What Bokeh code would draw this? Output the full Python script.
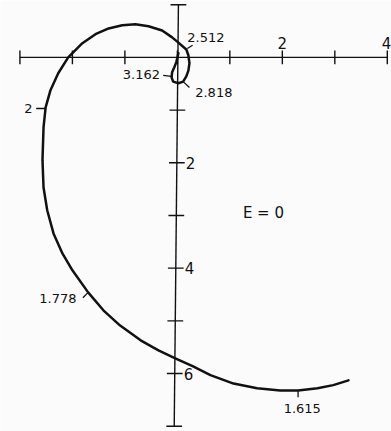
from bokeh.plotting import figure
from bokeh.models import Range1d
from bokeh.core.properties import value
from bokeh.embed import file_html
from bokeh.resources import INLINE

# Locus of the frequency response for E = 0 (real part vs. negative imaginary part),
# listed from the innermost end of the spiral outwards
real_part = [0.02, -0.02, -0.06, -0.10, -0.11, -0.08, 0.02, 0.11, 0.17, 0.21,
             0.23, 0.21, 0.17, 0.02, -0.10, -0.29, -0.55, -0.80, -1.05, -1.31,
             -1.56, -1.81, -2.08, -2.27, -2.42, -2.51, -2.55, -2.57, -2.55, -2.48,
             -2.36, -2.19, -2.00, -1.70, -1.41, -1.09, -0.70, -0.36, -0.04, 0.29,
             0.63, 1.07, 1.52, 1.96, 2.30, 2.67, 2.97, 3.26]
neg_imag = [-0.08, 0.09, 0.19, 0.28, 0.38, 0.46, 0.49, 0.46, 0.36, 0.25,
            0.11, -0.04, -0.15, -0.28, -0.38, -0.51, -0.59, -0.63, -0.61, -0.55,
            -0.44, -0.27, 0.00, 0.30, 0.63, 0.95, 1.33, 1.95, 2.47, 2.90,
            3.34, 3.72, 4.04, 4.46, 4.80, 5.09, 5.37, 5.56, 5.71, 5.86,
            6.03, 6.19, 6.28, 6.32, 6.32, 6.28, 6.22, 6.13]

# Frequency marks along the locus
freq_labels = ["3.162", "2.818", "2.512", "2", "1.778", "1.615"]

# Axis ticks and labels
x_ticks = [-3, -2, -1, 0, 1, 2, 3, 4]
x_tick_labels = ["2", "4"]
x_label_vals = [2, 4]
y_ticks = [-1, 1, 2, 3, 4, 5, 6, 7]
y_tick_labels = ["2", "4", "6"]
y_label_vals = [2, 4, 6]

INK = "#111111"
FONT = value("DejaVu Sans")


def axis_x(y):
    # the hand-ruled vertical axis leans very slightly
    return 0.02 - 0.01 * (y + 1)


p = figure(width=391, height=431, output_backend="svg", toolbar_location=None,
           x_range=Range1d(-3.37, 4.08), y_range=Range1d(7.10, -1.08),
           min_border=0, background_fill_color="#fbfbfb",
           border_fill_color="#fbfbfb")
p.axis.visible = False
p.grid.visible = False
p.outline_line_color = None

# Axes crossing at the origin, with ticks straddling the lines
p.segment(x0=[-3.0], y0=[0], x1=[4.0], y1=[0], line_color=INK, line_width=1.4)
p.segment(x0=[axis_x(-1.0)], y0=[-1.0], x1=[axis_x(7.0)], y1=[7.0],
          line_color=INK, line_width=1.4)
p.segment(x0=x_ticks, y0=[-0.13] * len(x_ticks), x1=x_ticks, y1=[0.13] * len(x_ticks),
          line_color=INK, line_width=1.4)
p.segment(x0=[axis_x(t) - 0.15 for t in y_ticks], y0=y_ticks,
          x1=[axis_x(t) + 0.15 for t in y_ticks], y1=y_ticks,
          line_color=INK, line_width=1.4)

p.text(x=x_label_vals, y=[-0.28, -0.28], text=x_tick_labels, text_font=FONT,
       text_font_size="15px", text_align=["center", "right"], text_baseline="middle",
       text_color=INK, x_offset=[0, 4])
p.text(x=[axis_x(t) + 0.17 for t in y_label_vals], y=y_label_vals,
       text=y_tick_labels, text_font=FONT, text_font_size="15px",
       text_align="left", text_baseline="middle", text_color=INK)

# The locus
p.line(real_part, neg_imag, line_color=INK, line_width=2.5,
       line_join="round", line_cap="round")

# Leaders from the locus to the frequency marks
p.segment(x0=[-0.27, 0.11, 0.19, -2.69, -1.80, 2.30],
          y0=[0.34, 0.46, -0.17, 0.97, 4.56, 6.32],
          x1=[-0.11, 0.23, 0.29, -2.52, -1.70, 2.30],
          y1=[0.36, 0.57, -0.23, 0.97, 4.46, 6.45],
          line_color=INK, line_width=1.3)

lab_x = [-0.33, 0.34, 0.19, -2.84, -2.63, 2.38]
lab_y = [0.33, 0.66, -0.38, 0.97, 4.57, 6.66]
lab_align = ["right", "left", "left", "center", "left", "center"]
for xx, yy, t, a in zip(lab_x, lab_y, freq_labels, lab_align):
    p.text(x=[xx], y=[yy], text=[t], text_font=FONT, text_font_size="13px",
           text_align=a, text_baseline="middle", text_color=INK)

p.text(x=[1.64], y=[2.96], text=["E = 0"], text_font=FONT, text_font_size="15px",
       text_align="center", text_baseline="middle", text_color=INK)

open("out.html", "w").write(file_html(p, INLINE))
